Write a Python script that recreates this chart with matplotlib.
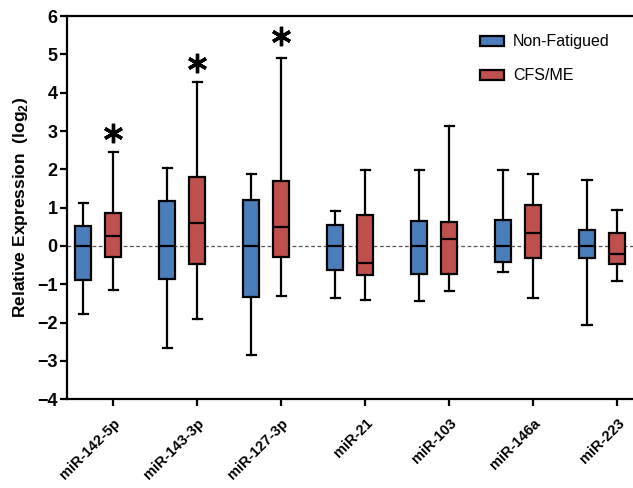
import numpy as np
import matplotlib
matplotlib.use('Agg')
import matplotlib.pyplot as plt
from matplotlib.patches import Patch

plt.rcParams['font.family'] = ['Liberation Sans', 'DejaVu Sans']
plt.rcParams['mathtext.fontset'] = 'custom'
plt.rcParams['mathtext.bf'] = 'Liberation Sans:bold'
plt.rcParams['mathtext.rm'] = 'Liberation Sans'

mirnas = ['miR-142-5p', 'miR-143-3p', 'miR-127-3p', 'miR-21', 'miR-103', 'miR-146a', 'miR-223']

# Non-Fatigued: whisker low, Q1, median, Q3, whisker high
nf_low = [-1.77, -2.67, -2.85, -1.36, -1.44, -0.69, -2.06]
nf_q1 = [-0.88, -0.87, -1.32, -0.63, -0.74, -0.43, -0.32]
nf_med = [0.0, 0.0, -0.01, 0.0, 0.0, 0.0, 0.0]
nf_q3 = [0.51, 1.18, 1.21, 0.54, 0.66, 0.69, 0.42]
nf_high = [1.11, 2.04, 1.88, 0.92, 1.98, 1.98, 1.72]

# CFS/ME
cfs_low = [-1.16, -1.90, -1.31, -1.40, -1.18, -1.36, -0.91]
cfs_q1 = [-0.29, -0.46, -0.29, -0.77, -0.74, -0.32, -0.47]
cfs_med = [0.27, 0.60, 0.49, -0.44, 0.19, 0.35, -0.22]
cfs_q3 = [0.85, 1.79, 1.69, 0.81, 0.63, 1.07, 0.34]
cfs_high = [2.45, 4.27, 4.90, 1.99, 3.14, 1.88, 0.95]

# asterisk positions (significant groups only)
star_idx = [0, 1, 2]
star_y = [2.94, 4.77, 5.47]

blue = '#4a7ebb'
red = '#c0504d'


def make_stats(low, q1, med, q3, high):
    return [dict(whislo=a, q1=b, med=c, q3=d, whishi=e, fliers=[])
            for a, b, c, d, e in zip(low, q1, med, q3, high)]


fig = plt.figure(figsize=(6.33, 4.88), dpi=100)
ax = fig.add_axes([0.106, 0.182, 0.894, 0.785])

x = np.arange(len(mirnas))
off = 0.357
w = 0.19

ax.axhline(0, color='#555555', lw=0.9, ls=(0, (3, 2)), zorder=1)

for stats, pos, col in [(make_stats(nf_low, nf_q1, nf_med, nf_q3, nf_high), x - off, blue),
                        (make_stats(cfs_low, cfs_q1, cfs_med, cfs_q3, cfs_high), x, red)]:
    ax.bxp(stats, positions=pos, widths=w, patch_artist=True, showfliers=False,
           boxprops=dict(facecolor=col, edgecolor='black', linewidth=1.6),
           medianprops=dict(color='black', linewidth=1.6),
           whiskerprops=dict(color='black', linewidth=1.6),
           capprops=dict(color='black', linewidth=1.6),
           capwidths=0.11, zorder=3)

ax.plot(x[star_idx], star_y, ls='none', marker=(6, 2, 0), ms=14, mew=2.4, color='black')

ax.set_xlim(-0.55, 6.19)
ax.set_ylim(-4, 6)
ax.set_yticks(range(-4, 7))
ax.set_xticks(x)
ax.set_xticklabels(mirnas, rotation=45, ha='right', rotation_mode='anchor',
                   fontsize=10.5, fontweight='bold')
for lbl in ax.get_yticklabels():
    lbl.set_fontweight('bold')
    lbl.set_fontsize(13)
ax.tick_params(axis='both', width=1.6, length=5)
ax.tick_params(axis='y', pad=2)
ax.tick_params(axis='x', pad=7)
ax.set_ylabel('Relative Expression  (log$_\\mathbf{2}$)', fontsize=12.5, fontweight='bold',
              labelpad=5)

ax.spines['right'].set_visible(False)
for s in ['left', 'bottom', 'top']:
    ax.spines[s].set_linewidth(1.6)

handles = [Patch(facecolor=blue, edgecolor='black', linewidth=1.6, label='Non-Fatigued'),
           Patch(facecolor=red, edgecolor='black', linewidth=1.6, label='CFS/ME')]
ax.legend(handles=handles, loc='upper left', bbox_to_anchor=(0.705, 0.99), frameon=False,
          fontsize=11.5, handlelength=1.5, handleheight=0.6, labelspacing=1.2,
          handletextpad=0.55)

fig.savefig('out.png', dpi=100)
